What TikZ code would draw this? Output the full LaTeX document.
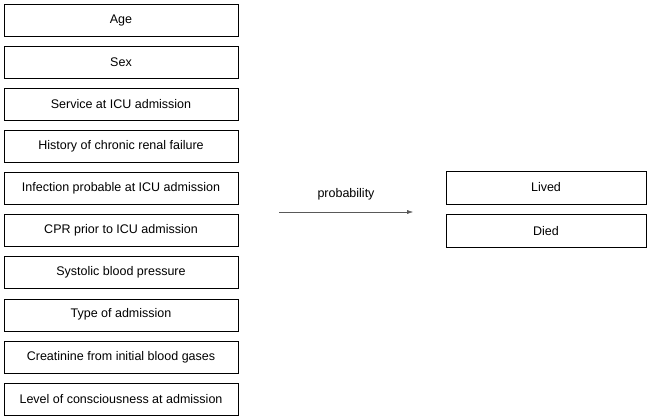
\documentclass[tikz,border=0pt]{standalone}
\usepackage{fontspec}
\setmainfont{Liberation Sans}
\usetikzlibrary{positioning, arrows.meta}
\tikzset{
    factor/.style={rectangle, draw=black, thin, fill=white, align=center, minimum width=234pt, minimum height=32pt, font=\fontsize{12.5}{15}\selectfont},
    outcome/.style={rectangle, draw=black, thin, fill=white, align=center, minimum width=200pt, minimum height=33pt, font=\fontsize{12.5}{15}\selectfont},
    arrow/.style={-{Latex[length=6pt,width=4pt]}, draw=gray!70!black, thin},
    label/.style={font=\fontsize{12.5}{15}\selectfont, align=center}
}
\begin{document}
\begin{tikzpicture}[x=1pt, y=1pt, node distance=9.7pt]
    \useasboundingbox (0,0) rectangle (650,-417);
    \node[factor] (Age) at (121,-20) {Age};
    \node[factor, below=of Age] (Sex) {Sex};
    \node[factor, below=of Sex] (Service) {Service at ICU admission};
    \node[factor, below=of Service] (Renal) {History of chronic renal failure};
    \node[factor, below=of Renal] (Infection) {Infection probable at ICU admission};
    \node[factor, below=of Infection] (CPR) {CPR prior to ICU admission};
    \node[factor, below=of CPR] (Systolic) {Systolic blood pressure};
    \node[factor, below=of Systolic] (Type) {Type of admission};
    \node[factor, below=of Type] (Creat) {Creatinine from initial blood gases};
    \node[factor, below=of Creat] (Level) {Level of consciousness at admission};

    \node[outcome] (Lived) at (546,-187.5) {Lived};
    \node[outcome, below=10pt of Lived] (Died) {Died};

    \coordinate (ArrowStart) at (279,-212);
    \coordinate (ArrowEnd) at (413,-212);
    \draw[arrow] (ArrowStart) -- node[label, above=8pt] {probability} (ArrowEnd);
\end{tikzpicture}
\end{document}
